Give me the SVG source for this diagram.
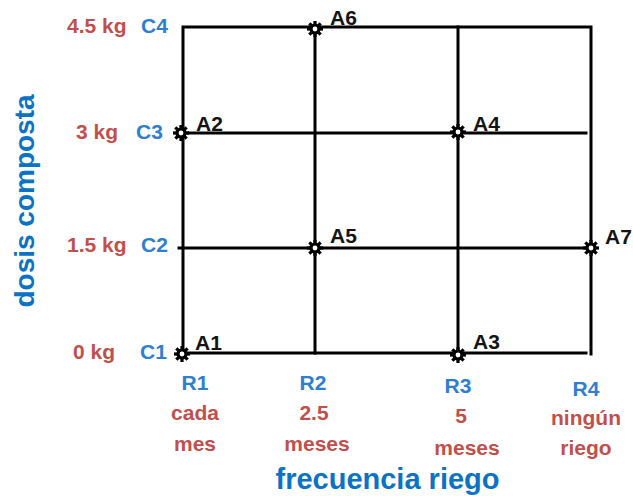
<svg xmlns="http://www.w3.org/2000/svg" xmlns:xlink="http://www.w3.org/1999/xlink" width="633" height="496" viewBox="0 0 633 496">
<style>
.ln{stroke:#000;stroke-width:3;fill:none;stroke-linecap:square}
.lbl{font-family:"Liberation Sans",Arial,sans-serif;font-weight:bold;font-size:21px}
.red{fill:#c0504d}
.blue{fill:#2e7fd0}
.pt{fill:#141414}
.axis{font-family:"Liberation Sans",Arial,sans-serif;font-weight:bold;fill:#0c72c4}
.bot{font-family:"Liberation Sans",Arial,sans-serif;font-weight:bold;font-size:21px;text-anchor:middle}
</style>
<defs>
<g id="gear">
<g fill="#000">
<rect x="-1.6" y="-8" width="3.2" height="16"/>
<rect x="-8" y="-1.6" width="16" height="3.2"/>
<rect x="-1.6" y="-8" width="3.2" height="16" transform="rotate(45)"/>
<rect x="-8" y="-1.6" width="16" height="3.2" transform="rotate(45)"/>
<circle r="5.6"/>
</g>
<circle r="2.4" fill="#fff"/>
</g>
</defs>
<rect width="633" height="496" fill="#fff"/>

<g id="connectors">
<path class="ln" d="M183,355 V27 H591 V354"/>
<path class="ln" d="M315,27 V353"/>
<path class="ln" d="M458,27 V355"/>
<path class="ln" d="M179,133 H586"/>
<path class="ln" d="M179,248 H591"/>
<path class="ln" d="M183,353 H586"/>
</g>

<g id="A1"><use xlink:href="#gear" x="182" y="354"/><text class="lbl pt" x="195" y="350">A1</text></g>
<g id="A2"><use xlink:href="#gear" x="181" y="133"/><text class="lbl pt" x="196" y="131">A2</text></g>
<g id="A3"><use xlink:href="#gear" x="458" y="355"/><text class="lbl pt" x="473" y="349">A3</text></g>
<g id="A4"><use xlink:href="#gear" x="458" y="132"/><text class="lbl pt" x="473" y="131">A4</text></g>
<g id="A5"><use xlink:href="#gear" x="315" y="248"/><text class="lbl pt" x="330" y="243">A5</text></g>
<g id="A6"><use xlink:href="#gear" x="315" y="29"/><text class="lbl pt" x="330" y="25">A6</text></g>
<g id="A7"><use xlink:href="#gear" x="591" y="248"/><text class="lbl pt" x="605" y="244">A7</text></g>

<g id="y-labels">
<text class="lbl red" x="67" y="33">4.5 kg</text><text class="lbl blue" x="141" y="33">C4</text>
<text class="lbl red" x="76" y="139">3 kg</text><text class="lbl blue" x="136" y="139">C3</text>
<text class="lbl red" x="67" y="252">1.5 kg</text><text class="lbl blue" x="141" y="252">C2</text>
<text class="lbl red" x="73" y="359">0 kg</text><text class="lbl blue" x="140" y="359">C1</text>
</g>

<g id="x-labels">
<text class="bot blue" x="195" y="390">R1</text>
<text class="bot red" x="195" y="420">cada</text>
<text class="bot red" x="195" y="451">mes</text>
<text class="bot blue" x="313" y="390">R2</text>
<text class="bot red" x="314" y="420">2.5</text>
<text class="bot red" x="317" y="451">meses</text>
<text class="bot blue" x="458" y="393">R3</text>
<text class="bot red" x="461" y="423">5</text>
<text class="bot red" x="467" y="455">meses</text>
<text class="bot blue" x="586" y="396">R4</text>
<text class="bot red" x="586" y="425">ningún</text>
<text class="bot red" x="586" y="455">riego</text>
</g>

<text class="axis" font-size="29" text-anchor="middle" x="387.5" y="489">frecuencia riego</text>
<text class="axis" font-size="28" text-anchor="middle" transform="translate(34,201) rotate(-90)">dosis composta</text>
</svg>
